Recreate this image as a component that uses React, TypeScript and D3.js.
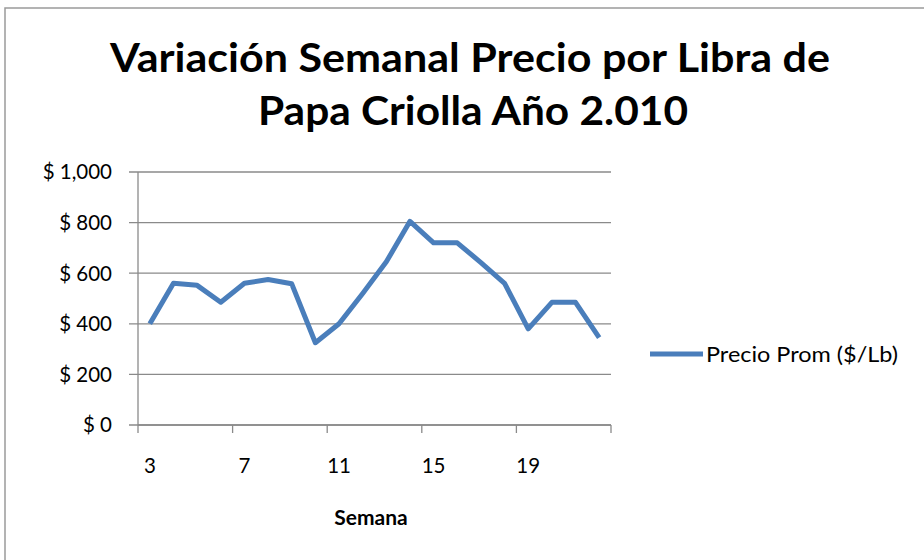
import React from "react";
import * as d3 from "d3";

// Semana 3 .. 22
const weeks = [3, 4, 5, 6, 7, 8, 9, 10, 11, 12, 13, 14, 15, 16, 17, 18, 19, 20, 21, 22];
const prices = [400, 560, 552, 485, 560, 575, 558, 325, 400, 520, 645, 805, 720, 720, 642, 560, 380, 485, 485, 345];
const xTickLabels = [3, 7, 11, 15, 19];
const yTicks = [0, 200, 400, 600, 800, 1000];

const seriesName = "Precio Prom ($/Lb)";
const titleLines = ["Variación Semanal Precio por Libra de", "Papa Criolla Año 2.010"];

const W = 924;
const H = 560;
const plot = { left: 138, right: 611, top: 172, bottom: 425 };
const font = "Lato, 'Open Sans', sans-serif";
const blue = "#4a7ebb";
const grey = "#8a8a8a";

const App = () => {
  const x = d3.scaleBand<number>().domain(weeks).range([plot.left, plot.right]);
  const y = d3.scaleLinear().domain([0, 1000]).range([plot.bottom, plot.top]);

  const line = d3
    .line<number>()
    .x((d, i) => (x(weeks[i]) as number) + x.bandwidth() / 2)
    .y(d => y(d));

  // Excel category axis: a tick every 4 categories
  const xTicks = d3.range(0, weeks.length + 1, 4).map(i => plot.left + i * x.step());

  return (
    <div style={{ position: "absolute", left: 0, top: 0 }}>
      <svg width={W} height={H} style={{ display: "block", background: "#fff" }}>
        <rect x={5} y={8} width={W + 10} height={H + 10} fill="#fff" stroke="#9a9a9a" strokeWidth={1.5} />

        <g fontFamily={font} fontWeight="bold" fill="#000" textAnchor="middle">
          <text x={470} y={72} fontSize={40} textLength={720} lengthAdjust="spacingAndGlyphs">
            {titleLines[0]}
          </text>
          <text x={473} y={125} fontSize={40} textLength={430} lengthAdjust="spacingAndGlyphs">
            {titleLines[1]}
          </text>
        </g>

        {/* gridlines + y ticks */}
        {yTicks.map(t => (
          <g key={t}>
            <line x1={plot.left - 9} x2={plot.right} y1={y(t)} y2={y(t)} stroke={grey} strokeWidth={1.3} />
            <text
              x={112}
              y={y(t)}
              dy="0.36em"
              textAnchor="end"
              fontFamily={font}
              fontSize={20.5}
              fill="#000"
            >
              {"$ " + d3.format(",")(t)}
            </text>
          </g>
        ))}

        {/* axes */}
        <line x1={plot.left} x2={plot.left} y1={plot.top} y2={plot.bottom} stroke={grey} strokeWidth={1.3} />
        <line x1={plot.left} x2={plot.right} y1={plot.bottom} y2={plot.bottom} stroke={grey} strokeWidth={1.3} />
        {xTicks.map((tx, i) => (
          <line key={i} x1={tx} x2={tx} y1={plot.bottom} y2={plot.bottom + 8} stroke={grey} strokeWidth={1.3} />
        ))}
        {xTickLabels.map(w => (
          <text
            key={w}
            x={(x(w) as number) + x.bandwidth() / 2}
            y={473}
            textAnchor="middle"
            fontFamily={font}
            fontSize={20.5}
            fill="#000"
          >
            {w}
          </text>
        ))}
        <text x={371} y={525} textAnchor="middle" fontFamily={font} fontWeight="bold" fontSize={21} fill="#000">
          Semana
        </text>

        <path d={line(prices) ?? ""} fill="none" stroke={blue} strokeWidth={5} strokeLinejoin="round" />

        {/* legend */}
        <line x1={650} x2={703} y1={354} y2={354} stroke={blue} strokeWidth={5} />
        <text x={706} y={362} fontFamily={font} fontSize={22} fill="#000" textLength={192} lengthAdjust="spacingAndGlyphs">
          {seriesName}
        </text>
      </svg>
    </div>
  );
};

export default App;
